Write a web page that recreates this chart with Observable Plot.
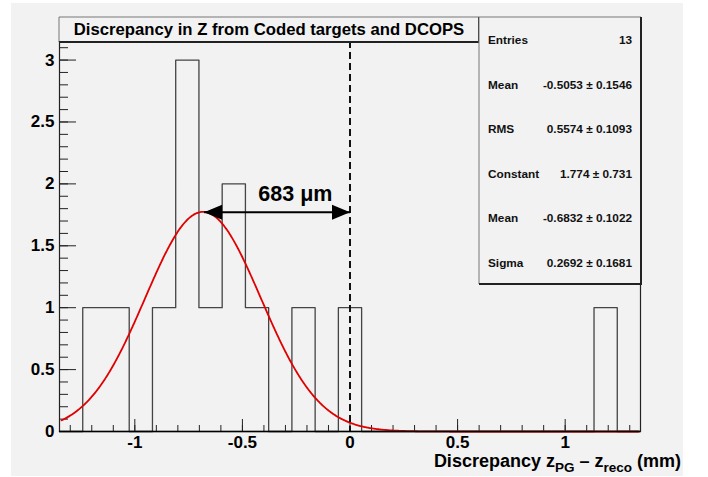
<!DOCTYPE html>
<html>
<head>
<meta charset="utf-8">
<script src="https://cdn.jsdelivr.net/npm/d3@7"></script>
<script src="https://cdn.jsdelivr.net/npm/@observablehq/plot@0.6"></script>
<style>
  body { margin: 0; background: #ffffff; }
  #wrap { position: relative; width: 708px; height: 477px; }
  #bg { position: absolute; left: 11px; top: 3px; width: 672px; height: 473px; background: #f2f2f2; }
  #chart { position: absolute; left: 0; top: 0; }
  svg { font-family: "Liberation Sans", Arial, Helvetica, sans-serif; }
</style>
</head>
<body>
<div id="wrap"><div id="bg"></div><div id="chart"></div></div>
<script>
// ---- data ----
const histLow = -1.35, histHigh = 1.35;
const binCounts = [0,1,1,0,1,3,1,2,1,0,1,0,1,0,0,0,0,0,0,0,0,0,0,1,0];
const fitConstant = 1.774, fitMean = -0.6832, fitSigma = 0.2692;
const yMajor = [0, 0.5, 1, 1.5, 2, 2.5, 3];
const yLabels = ["0", "0.5", "1", "1.5", "2", "2.5", "3"];
const xMajor = [-1, -0.5, 0, 0.5, 1];
const xLabels = ["-1", "-0.5", "0", "0.5", "1"];
const statNames = ["Entries", "Mean", "RMS", "Constant", "Mean", "Sigma"];
const statValues = ["13", "-0.5053 \u00b1 0.1546", "0.5574 \u00b1 0.1093", "1.774 \u00b1 0.731", "-0.6832 \u00b1 0.1022", "0.2692 \u00b1 0.1681"];
const titleText = "Discrepancy in Z from Coded targets and DCOPS";
const arrowFrom = -0.678, arrowTo = 0, arrowY = 1.77;
const arrowLabel = "683 \u03bcm";

// ---- derived tables ----
const nb = binCounts.length;
const bw = (histHigh - histLow) / nb;
const steps = binCounts.map((c, i) => ({x: histLow + i * bw, y: c}));
steps.push({x: histHigh, y: binCounts[nb - 1]});
const gauss = d3.range(-1.34, 1.3401, 0.004).map(x => ({x, y: fitConstant * Math.exp(-0.5 * ((x - fitMean) / fitSigma) ** 2)}));
const yMinor = d3.range(0, 32).map(i => i / 10);
const xMinor = d3.range(-13, 14).map(i => i / 10);

const W = 708, H = 477, mL = 59, mR = 68, mT = 41, mB = 46;
const pw = W - mL - mR, ph = H - mT - mB;

const arrowRight = {draw(ctx) { ctx.moveTo(0, 0); ctx.lineTo(-18, -7.5); ctx.lineTo(-18, 7.5); ctx.closePath(); }};
const arrowLeft = {draw(ctx) { ctx.moveTo(0, 0); ctx.lineTo(18, -7.5); ctx.lineTo(18, 7.5); ctx.closePath(); }};

const plot = Plot.plot({
  width: W, height: H,
  marginLeft: mL, marginRight: mR, marginTop: mT, marginBottom: mB,
  style: {background: "transparent", fontFamily: "Liberation Sans, Arial, sans-serif", overflow: "visible"},
  x: {domain: [histLow, histHigh], axis: null},
  y: {domain: [0, 3.15], axis: null},
  marks: [
    // y ticks (inside)
    Plot.ruleY(yMinor, {stroke: "#222", strokeWidth: 1, insetRight: pw - 9}),
    Plot.ruleY(yMajor, {stroke: "#222", strokeWidth: 1, insetRight: pw - 17}),
    // x ticks (inside)
    Plot.ruleX(xMinor, {stroke: "#222", strokeWidth: 1, insetTop: ph - 6}),
    Plot.ruleX(xMajor, {stroke: "#222", strokeWidth: 1, insetTop: ph - 12}),
    // histogram
    Plot.line(steps, {x: "x", y: "y", curve: "step-after", stroke: "#444", strokeWidth: 1.3}),
    // fit
    Plot.line(gauss, {x: "x", y: "y", stroke: "#e00000", strokeWidth: 1.8}),
    // dashed line at zero
    Plot.ruleX([0], {stroke: "#111", strokeWidth: 2, strokeDasharray: "7,4"}),
    // arrow
    Plot.link([{x1: arrowFrom, x2: arrowTo, y: arrowY}], {x1: "x1", x2: "x2", y1: "y", y2: "y", stroke: "#000", strokeWidth: 2}),
    Plot.dot([{x: arrowTo, y: arrowY}], {x: "x", y: "y", symbol: arrowRight, r: 1, fill: "#000", stroke: "none"}),
    Plot.dot([{x: arrowFrom, y: arrowY}], {x: "x", y: "y", symbol: arrowLeft, r: 1, fill: "#000", stroke: "none"}),
    Plot.text([arrowLabel], {x: (arrowFrom + arrowTo) / 2 + 0.085, y: arrowY, dy: -11, lineAnchor: "bottom", text: d => d, fontSize: 21.5, fontWeight: "bold", fill: "#000"}),
    // frame
    Plot.frame({stroke: "#222", strokeWidth: 1.2}),
    Plot.ruleY([0], {stroke: "#000", strokeWidth: 1.5}),
    // tick labels
    Plot.text(yMajor, {y: d => d, text: (d, i) => yLabels[i], frameAnchor: "left", textAnchor: "end", dx: -5, fontSize: 17, fontWeight: "bold", fill: "#000"}),
    Plot.text(xMajor, {x: d => d, text: (d, i) => xLabels[i], frameAnchor: "bottom", lineAnchor: "top", dy: 4, fontSize: 17, fontWeight: "bold", fill: "#000"})
  ]
});
document.getElementById("chart").appendChild(plot);

const svg = d3.select(plot);
// title box
const tb = {x0: 59, x1: 479, y0: 17, y1: 42};
const g = svg.append("g").attr("text-anchor", "start").attr("font-family", "Liberation Sans, Arial, sans-serif");
g.append("rect").attr("x", tb.x0).attr("y", tb.y0).attr("width", tb.x1 - tb.x0).attr("height", tb.y1 - tb.y0).attr("fill", "#f2f2f2").attr("stroke", "none");
g.append("path").attr("d", `M${tb.x0},${tb.y1}V${tb.y0}H${tb.x1}`).attr("fill", "none").attr("stroke", "#777").attr("stroke-width", 1);
g.append("path").attr("d", `M${tb.x0},${tb.y1}H${tb.x1}V${tb.y0}`).attr("fill", "none").attr("stroke", "#222").attr("stroke-width", 2);
g.append("text").attr("x", (tb.x0 + tb.x1) / 2).attr("y", 34.5).attr("text-anchor", "middle")
  .attr("font-size", 16.7).attr("font-weight", "bold").attr("fill", "#000").text(titleText);

// stats box
const sb = {x0: 479, x1: 641, y0: 17, y1: 284};
g.append("rect").attr("x", sb.x0).attr("y", sb.y0).attr("width", sb.x1 - sb.x0).attr("height", sb.y1 - sb.y0).attr("fill", "#f2f2f2").attr("stroke", "none");
g.append("path").attr("d", `M${sb.x0},${sb.y1}V${sb.y0}H${sb.x1}`).attr("fill", "none").attr("stroke", "#777").attr("stroke-width", 1);
g.append("path").attr("d", `M${sb.x0},${sb.y1}H${sb.x1}V${sb.y0}`).attr("fill", "none").attr("stroke", "#222").attr("stroke-width", 2);
statNames.forEach((n, i) => {
  const y = 44 + i * 44.6;
  g.append("text").attr("x", 488).attr("y", y).attr("text-anchor", "start").attr("font-size", 11.8).attr("font-weight", "bold").attr("fill", "#111").text(n);
  g.append("text").attr("x", 632).attr("y", y).attr("text-anchor", "end").attr("font-size", 11.8).attr("font-weight", "bold").attr("fill", "#111").text(statValues[i]);
});

// x axis title
const xt = g.append("text").attr("x", 681).attr("y", 467).attr("text-anchor", "end")
  .attr("font-size", 18).attr("font-weight", "bold").attr("fill", "#000");
xt.append("tspan").text("Discrepancy z");
xt.append("tspan").attr("font-size", 13.5).attr("dy", 5).text("PG");
xt.append("tspan").attr("dy", -5).text(" \u2013 z");
xt.append("tspan").attr("font-size", 13.5).attr("dy", 5).text("reco");
xt.append("tspan").attr("dy", -5).text(" (mm)");
</script>
</body>
</html>
